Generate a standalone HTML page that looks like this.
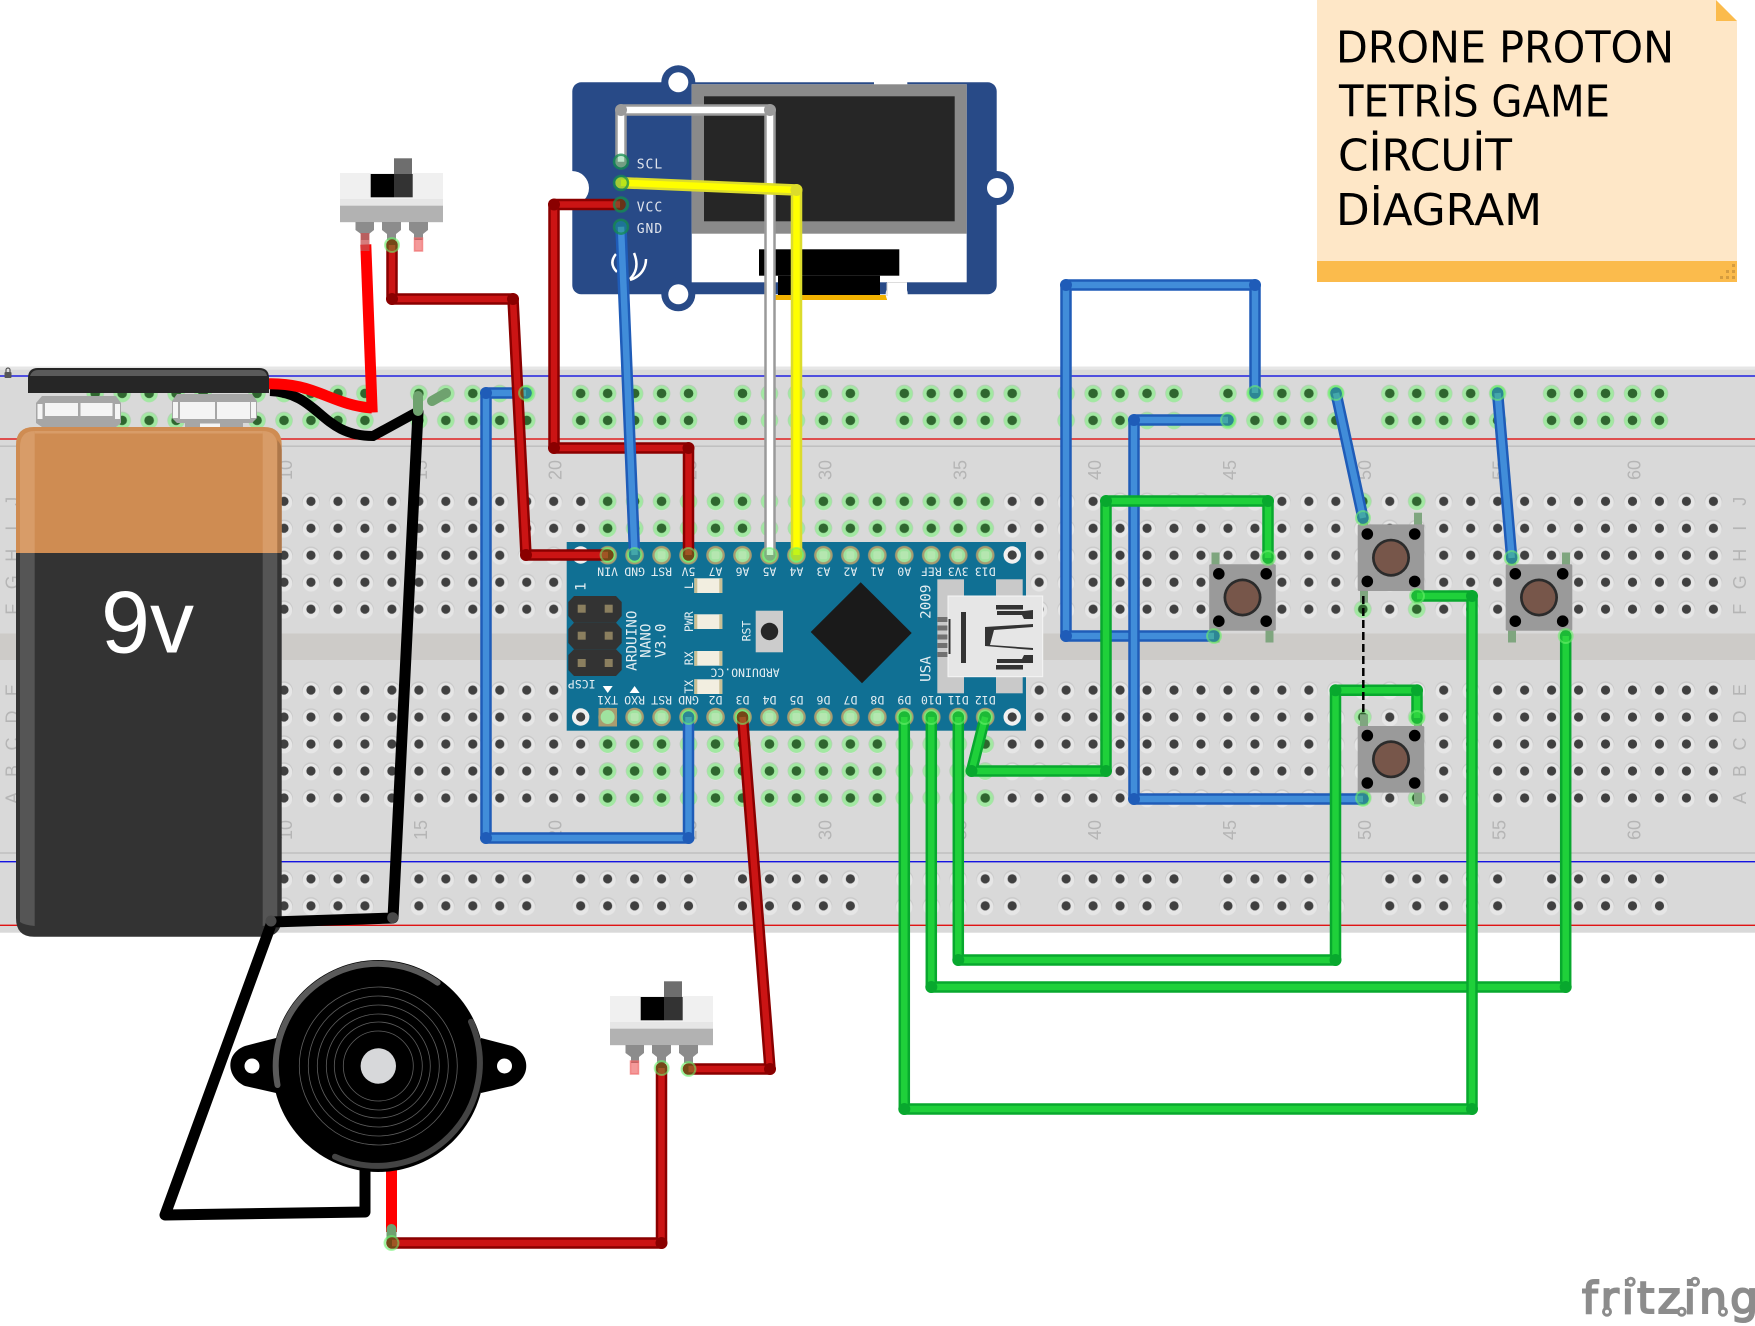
<!DOCTYPE html>
<html><head><meta charset="utf-8"><style>
html,body{margin:0;padding:0;background:#fff}
svg{display:block}
.o{fill:none;stroke-width:11.5;stroke-linecap:round;stroke-linejoin:round}
.i{fill:none;stroke-width:6.5;stroke-linecap:butt;stroke-linejoin:round}
.bo{stroke:#1f5cb8}.bi{stroke:#418dd9}
.ro{stroke:#8a0000}.ri{stroke:#cb1414}
.go{stroke:#08a82e}.gi{stroke:#1fd03a}
.wo{stroke:#9a9a9a}.wi{stroke:#fff}
.yo{stroke:#dcdc2c}.yi{stroke:#ffff00}
.k{fill:none;stroke:#000;stroke-width:11;stroke-linejoin:round;stroke-linecap:round}
.n{font:18px "Liberation Sans",sans-serif;fill:#b5b5b5;text-anchor:middle;dominant-baseline:central}
.m{font:11.5px "DejaVu Sans Mono",monospace;fill:#e4eef2;text-anchor:middle;dominant-baseline:central}
.m2{font:14.3px "DejaVu Sans Mono",monospace;fill:#e4eef2;text-anchor:middle;dominant-baseline:central}
.ol{font:13px "DejaVu Sans Mono",monospace;fill:#e0e4ec;letter-spacing:1px}
.e{fill:rgba(70,225,70,.32);stroke:rgba(110,240,110,.55);stroke-width:2}
.d{fill:rgba(30,170,80,.3);stroke:rgba(20,140,80,.75);stroke-width:2.5}
</style></head><body>
<svg width="1755" height="1326" viewBox="0 0 1755 1326" xmlns="http://www.w3.org/2000/svg">
<defs>
<pattern id="h" x="270.515" y="487.8" width="26.97" height="26.97" patternUnits="userSpaceOnUse">
<circle cx="13.485" cy="13.485" r="8.8" fill="#c9c9c9"/><circle cx="13.485" cy="14.5" r="8.3" fill="#e6e6e6"/><circle cx="13.485" cy="13.485" r="4.6" fill="#404040"/>
</pattern>
<pattern id="gh" x="270.515" y="487.8" width="26.97" height="26.97" patternUnits="userSpaceOnUse">
<circle cx="13.485" cy="13.485" r="8.8" fill="#b5cdb5"/><circle cx="13.485" cy="14" r="8.3" fill="#a2e8a2"/><circle cx="13.485" cy="13.485" r="4.8" fill="#2f662f"/>
</pattern>
<pattern id="p" x="270.515" y="487.8" width="26.97" height="26.97" patternUnits="userSpaceOnUse">
<circle cx="13.485" cy="13.485" r="9.3" fill="#a89c70"/><circle cx="13.485" cy="13.485" r="7" fill="#9fe39f"/><rect x="9.5" y="9.5" width="8" height="8" rx="2" fill="#b5e6b0"/>
</pattern>
<marker id="mb" markerUnits="userSpaceOnUse" markerWidth="14" markerHeight="14" refX="7" refY="7"><circle cx="7" cy="7" r="6" fill="#1f5cb8"/></marker>
<marker id="mr" markerUnits="userSpaceOnUse" markerWidth="14" markerHeight="14" refX="7" refY="7"><circle cx="7" cy="7" r="6" fill="#8a0000"/></marker>
<marker id="mg" markerUnits="userSpaceOnUse" markerWidth="14" markerHeight="14" refX="7" refY="7"><circle cx="7" cy="7" r="6" fill="#08a82e"/></marker>
<marker id="mw" markerUnits="userSpaceOnUse" markerWidth="14" markerHeight="14" refX="7" refY="7"><circle cx="7" cy="7" r="6" fill="#9a9a9a"/></marker>
<marker id="my" markerUnits="userSpaceOnUse" markerWidth="14" markerHeight="14" refX="7" refY="7"><circle cx="7" cy="7" r="6" fill="#dcdc2c"/></marker>
<g id="btn">
<g fill="#7fa67f"><rect x="-31" y="-45" width="8" height="12"/><rect x="23" y="-45" width="8" height="12"/><rect x="-31" y="33" width="8" height="12"/><rect x="23" y="33" width="8" height="12"/></g>
<rect x="-33.3" y="-33.3" width="66.6" height="66.6" rx="1.5" fill="#9a9a9a"/>
<g fill="#000"><circle cx="-23.7" cy="-23.7" r="5.8"/><circle cx="23.7" cy="-23.7" r="5.8"/><circle cx="-23.7" cy="23.7" r="5.8"/><circle cx="23.7" cy="23.7" r="5.8"/></g>
<circle r="19" fill="#2b2b2b"/><circle r="16.3" fill="#77564a"/>
</g>
<g id="sw">
<rect x="340" y="173" width="103" height="27" fill="#f0f0f0"/>
<rect x="340" y="199" width="103" height="7" fill="#e6e6e6"/>
<rect x="340" y="205.7" width="103" height="16.5" fill="#b2b2b2"/>
<rect x="394" y="158.3" width="18" height="16" fill="#6e6e6e"/>
<rect x="370.7" y="174" width="23.3" height="23.3" fill="#000"/>
<rect x="394" y="174" width="18.7" height="23.3" fill="#333"/>
<g fill="#8c8c8c">
<path d="M355.5 222H374V230L369 234V240H361V234L355.5 230Z"/>
<path d="M382 222H401V230L396 234V240H387V234L382 230Z"/>
<path d="M409 222H428V230L423 234V240H414V234L409 230Z"/>
</g>
</g>
</defs>

<!-- breadboard -->
<rect x="0" y="366.7" width="1755" height="566" fill="#d9d9d9"/>
<rect x="0" y="366.7" width="1755" height="3" fill="#e6e6e6"/>
<rect x="0" y="633.5" width="1755" height="26.5" fill="#cdcbc8"/>
<rect x="0" y="375.3" width="1755" height="1.4" fill="#1414e0"/>
<rect x="0" y="438.3" width="1755" height="1.4" fill="#e01414"/>
<rect x="0" y="445.5" width="1755" height="1.4" fill="#bdbdbd"/>
<rect x="0" y="861" width="1755" height="1.4" fill="#1414e0"/>
<rect x="0" y="924.6" width="1755" height="1.4" fill="#e01414"/>
<rect x="0" y="852.3" width="1755" height="1.4" fill="#bdbdbd"/>
<g fill="#555"><rect x="4.5" y="372" width="7" height="6" rx="1"/><path d="M6 372v-2a2 2 0 0 1 4 0v2" fill="none" stroke="#555" stroke-width="1.2"/></g>

<rect x="27.785" y="487.8" width="1699.11" height="134.85" fill="url(#h)"/>
<rect x="27.785" y="676.6" width="1699.11" height="134.85" fill="url(#h)"/>
<g fill="url(#gh)">
<rect x="81.725" y="379.935" width="134.85" height="53.94"/><rect x="243.545" y="379.935" width="134.85" height="53.94"/><rect x="405.365" y="379.935" width="134.85" height="53.94"/><rect x="567.185" y="379.935" width="134.85" height="53.94"/><rect x="729.005" y="379.935" width="134.85" height="53.94"/><rect x="890.825" y="379.935" width="134.85" height="53.94"/><rect x="1052.645" y="379.935" width="134.85" height="53.94"/><rect x="1214.465" y="379.935" width="134.85" height="53.94"/><rect x="1376.285" y="379.935" width="134.85" height="53.94"/><rect x="1538.105" y="379.935" width="134.85" height="53.94"/>
<rect x="594.155" y="487.8" width="404.55" height="53.94"/>
<rect x="594.155" y="730.545" width="404.55" height="80.91"/>
<rect x="1349.3" y="487.8" width="26.97" height="26.97"/><rect x="1403.24" y="487.8" width="26.97" height="26.97"/>
<rect x="1349.3" y="595.68" width="26.97" height="26.97"/><rect x="1403.24" y="595.68" width="26.97" height="26.97"/>
<rect x="1349.3" y="703.575" width="26.97" height="26.97"/><rect x="1403.24" y="703.575" width="26.97" height="26.97"/>
<rect x="1349.3" y="784.485" width="26.97" height="26.97"/><rect x="1403.24" y="784.485" width="26.97" height="26.97"/>
</g>
<g fill="url(#h)">
<rect x="81.725" y="865.4" width="134.85" height="53.94"/><rect x="243.545" y="865.4" width="134.85" height="53.94"/><rect x="405.365" y="865.4" width="134.85" height="53.94"/><rect x="567.185" y="865.4" width="134.85" height="53.94"/><rect x="729.005" y="865.4" width="134.85" height="53.94"/><rect x="890.825" y="865.4" width="134.85" height="53.94"/><rect x="1052.645" y="865.4" width="134.85" height="53.94"/><rect x="1214.465" y="865.4" width="134.85" height="53.94"/><rect x="1376.285" y="865.4" width="134.85" height="53.94"/><rect x="1538.105" y="865.4" width="134.85" height="53.94"/>
</g>
<!-- board labels -->
<g>
<text class="n" transform="translate(286 470) rotate(-90)">10</text><text class="n" transform="translate(420.85 470) rotate(-90)">15</text><text class="n" transform="translate(555.7 470) rotate(-90)">20</text><text class="n" transform="translate(690.55 470) rotate(-90)">25</text><text class="n" transform="translate(825.4 470) rotate(-90)">30</text><text class="n" transform="translate(960.25 470) rotate(-90)">35</text><text class="n" transform="translate(1095.1 470) rotate(-90)">40</text><text class="n" transform="translate(1229.95 470) rotate(-90)">45</text><text class="n" transform="translate(1364.8 470) rotate(-90)">50</text><text class="n" transform="translate(1499.65 470) rotate(-90)">55</text><text class="n" transform="translate(1634.5 470) rotate(-90)">60</text>
<text class="n" transform="translate(286 830) rotate(-90)">10</text><text class="n" transform="translate(420.85 830) rotate(-90)">15</text><text class="n" transform="translate(555.7 830) rotate(-90)">20</text><text class="n" transform="translate(690.55 830) rotate(-90)">25</text><text class="n" transform="translate(825.4 830) rotate(-90)">30</text><text class="n" transform="translate(960.25 830) rotate(-90)">35</text><text class="n" transform="translate(1095.1 830) rotate(-90)">40</text><text class="n" transform="translate(1229.95 830) rotate(-90)">45</text><text class="n" transform="translate(1364.8 830) rotate(-90)">50</text><text class="n" transform="translate(1499.65 830) rotate(-90)">55</text><text class="n" transform="translate(1634.5 830) rotate(-90)">60</text>
<text class="n" transform="translate(1740 501.3) rotate(-90)">J</text><text class="n" transform="translate(1740 528.3) rotate(-90)">I</text><text class="n" transform="translate(1740 555.2) rotate(-90)">H</text><text class="n" transform="translate(1740 582.2) rotate(-90)">G</text><text class="n" transform="translate(1740 609.2) rotate(-90)">F</text>
<text class="n" transform="translate(1740 690.1) rotate(-90)">E</text><text class="n" transform="translate(1740 717) rotate(-90)">D</text><text class="n" transform="translate(1740 744) rotate(-90)">C</text><text class="n" transform="translate(1740 771) rotate(-90)">B</text><text class="n" transform="translate(1740 798) rotate(-90)">A</text>
<text class="n" transform="translate(12.5 501.3) rotate(-90)">J</text><text class="n" transform="translate(12.5 528.3) rotate(-90)">I</text><text class="n" transform="translate(12.5 555.2) rotate(-90)">H</text><text class="n" transform="translate(12.5 582.2) rotate(-90)">G</text><text class="n" transform="translate(12.5 609.2) rotate(-90)">F</text>
<text class="n" transform="translate(12.5 690.1) rotate(-90)">E</text><text class="n" transform="translate(12.5 717) rotate(-90)">D</text><text class="n" transform="translate(12.5 744) rotate(-90)">C</text><text class="n" transform="translate(12.5 771) rotate(-90)">B</text><text class="n" transform="translate(12.5 798) rotate(-90)">A</text>
</g>

<!-- OLED -->
<rect x="572.3" y="82.3" width="424.4" height="212" rx="9" fill="#284a87"/>
<circle cx="678.3" cy="82.3" r="17" fill="#284a87"/><circle cx="678.3" cy="294.3" r="17" fill="#284a87"/><circle cx="997" cy="188" r="17" fill="#284a87"/>
<circle cx="678.3" cy="82.3" r="10" fill="#fff"/><circle cx="678.3" cy="294.3" r="10" fill="#fff"/><circle cx="997" cy="188" r="10" fill="#fff"/>
<path d="M572 171a17 17 0 0 1 0 34Z" fill="#fff"/>
<rect x="874" y="82" width="33.3" height="2.5" fill="#fff"/>
<rect x="691.7" y="84.3" width="275" height="198" fill="#fff"/>
<rect x="691.7" y="84.3" width="275" height="149.4" fill="#8a8a8a"/>
<rect x="704" y="96.3" width="250.7" height="125" fill="#262626"/>
<rect x="759" y="249.3" width="140.3" height="26.4" fill="#000"/>
<rect x="778" y="275.7" width="102" height="19.3" fill="#000"/>
<rect x="775" y="295" width="113" height="5" fill="#f2b200"/>
<circle cx="896.7" cy="294" r="11" fill="#fff"/><rect x="887" y="282" width="20" height="20" fill="#fff"/>
<path d="M887 283V296" stroke="#ccc" stroke-width="1"/><path d="M887 282.5H907" stroke="#ddd" stroke-width="1"/>
<text class="ol" x="636.7" y="168.3">SCL</text><text class="ol" x="636.7" y="211.3">VCC</text><text class="ol" x="636.7" y="233">GND</text>
<g fill="none" stroke="#fff" stroke-width="2.5"><path d="M616 254c-5 6-5 12 1 18"/><path d="M634 253c5 12 2 20-4 26"/><path d="M646 259c0 8-4 17-16 21"/></g>

<!-- Nano -->
<rect x="566.7" y="542" width="459.3" height="188.7" fill="#107094"/>
<rect x="594.155" y="541.755" width="404.55" height="26.97" fill="url(#p)"/>
<rect x="594.155" y="703.575" width="404.55" height="26.97" fill="url(#p)"/>
<rect x="598.5" y="708" width="18.5" height="18.5" fill="#a89c70"/><circle cx="607.64" cy="717.06" r="7" fill="#9fe39f"/>
<g fill="#f0f0f0"><circle cx="580.67" cy="555" r="8.7"/><circle cx="1012.19" cy="555" r="8.7"/><circle cx="580.67" cy="717" r="8.7"/><circle cx="1012.19" cy="717" r="8.7"/></g>
<g fill="#404040"><circle cx="580.67" cy="555" r="4.6"/><circle cx="1012.19" cy="555" r="4.6"/><circle cx="580.67" cy="717" r="4.6"/><circle cx="1012.19" cy="717" r="4.6"/></g>
<text class="m" transform="translate(607.6 571.7) rotate(180)">VIN</text><text class="m" transform="translate(634.6 571.7) rotate(180)">GND</text><text class="m" transform="translate(661.6 571.7) rotate(180)">RST</text><text class="m" transform="translate(688.5 571.7) rotate(180)">5V</text><text class="m" transform="translate(715.5 571.7) rotate(180)">A7</text><text class="m" transform="translate(742.5 571.7) rotate(180)">A6</text><text class="m" transform="translate(769.5 571.7) rotate(180)">A5</text><text class="m" transform="translate(796.4 571.7) rotate(180)">A4</text><text class="m" transform="translate(823.4 571.7) rotate(180)">A3</text><text class="m" transform="translate(850.4 571.7) rotate(180)">A2</text><text class="m" transform="translate(877.3 571.7) rotate(180)">A1</text><text class="m" transform="translate(904.3 571.7) rotate(180)">A0</text><text class="m" transform="translate(931.3 571.7) rotate(180)">REF</text><text class="m" transform="translate(958.2 571.7) rotate(180)">3V3</text><text class="m" transform="translate(985.2 571.7) rotate(180)">D13</text>
<text class="m" transform="translate(607.6 700) rotate(180)">TX1</text><text class="m" transform="translate(634.6 700) rotate(180)">RXO</text><text class="m" transform="translate(661.6 700) rotate(180)">RST</text><text class="m" transform="translate(688.5 700) rotate(180)">GND</text><text class="m" transform="translate(715.5 700) rotate(180)">D2</text><text class="m" transform="translate(742.5 700) rotate(180)">D3</text><text class="m" transform="translate(769.5 700) rotate(180)">D4</text><text class="m" transform="translate(796.4 700) rotate(180)">D5</text><text class="m" transform="translate(823.4 700) rotate(180)">D6</text><text class="m" transform="translate(850.4 700) rotate(180)">D7</text><text class="m" transform="translate(877.3 700) rotate(180)">D8</text><text class="m" transform="translate(904.3 700) rotate(180)">D9</text><text class="m" transform="translate(931.3 700) rotate(180)">D10</text><text class="m" transform="translate(958.2 700) rotate(180)">D11</text><text class="m" transform="translate(985.2 700) rotate(180)">D12</text>
<!-- ICSP -->
<g fill="#333">
<path d="M574 596H616L621.7 602V616L616 622.7H574L568.3 616V602Z"/>
<path d="M574 622.7H616L621.7 629V643L616 649.3H574L568.3 643V629Z"/>
<path d="M574 649.3H616L621.7 655V670L616 676H574L568.3 670V655Z"/>
</g>
<g fill="#8b7f5f"><rect x="577.7" y="604.7" width="8" height="8"/><rect x="604.7" y="604.7" width="8" height="8"/><rect x="577.7" y="631.7" width="8" height="8"/><rect x="604.7" y="631.7" width="8" height="8"/><rect x="577.7" y="659" width="8" height="8"/><rect x="604.7" y="659" width="8" height="8"/></g>
<text class="m2" transform="translate(581.7 586.7) rotate(-90)">1</text>
<text class="m" transform="translate(581.7 684) rotate(180)">ICSP</text>
<path d="M602.7 686H612.7L607.7 693Z" fill="#fff"/><path d="M629.6 693H639.6L634.6 686Z" fill="#fff"/>
<text class="m2" transform="translate(632.7 640.7) rotate(-90)">ARDUINO</text><text class="m2" transform="translate(646.7 640.7) rotate(-90)">NANO</text><text class="m2" transform="translate(661.7 640.7) rotate(-90)">V3.0</text>
<g fill="#f2eee0"><rect x="694.3" y="578.3" width="28" height="14.7"/><rect x="694.3" y="614.3" width="28" height="14.7"/><rect x="694.3" y="651" width="28" height="14.7"/><rect x="694.3" y="679.3" width="28" height="14.7"/></g>
<g fill="#c9bf95"><rect x="694.3" y="578.3" width="3" height="14.7"/><rect x="719.3" y="578.3" width="3" height="14.7"/><rect x="694.3" y="614.3" width="3" height="14.7"/><rect x="719.3" y="614.3" width="3" height="14.7"/><rect x="694.3" y="651" width="3" height="14.7"/><rect x="719.3" y="651" width="3" height="14.7"/><rect x="694.3" y="679.3" width="3" height="14.7"/><rect x="719.3" y="679.3" width="3" height="14.7"/></g>
<text class="m" transform="translate(689 585.7) rotate(-90)">L</text><text class="m" transform="translate(689 621.7) rotate(-90)">PWR</text><text class="m" transform="translate(689 658.3) rotate(-90)">RX</text><text class="m" transform="translate(689 686.7) rotate(-90)">TX</text>
<rect x="755.7" y="610.7" width="27.3" height="41.6" fill="#ccc"/><circle cx="769.5" cy="631.5" r="8.7" fill="#262626"/>
<text class="m" transform="translate(746.7 631) rotate(-90)">RST</text>
<text class="m" transform="translate(745 672.7) rotate(180)">ARDUINO.CC</text>
<path d="M860.7 582.3L911.7 633L862 683.3L810.7 632Z" fill="#1a1a1a"/>
<text class="m2" transform="translate(926.7 601.7) rotate(-90)">2009</text><text class="m2" transform="translate(926.7 669) rotate(-90)">USA</text>
<!-- USB -->
<g fill="#c9c9c9"><rect x="937.3" y="579.3" width="26.7" height="114"/><rect x="995.7" y="579.3" width="27" height="114"/></g>
<rect x="964" y="579.3" width="32" height="114" fill="#107094"/>
<g fill="#707070"><rect x="937.3" y="617" width="12" height="5"/><rect x="937.3" y="625.5" width="12" height="5"/><rect x="937.3" y="634.5" width="12" height="5"/><rect x="937.3" y="643" width="12" height="5"/><rect x="937.3" y="652" width="12" height="5"/></g>
<rect x="948" y="596" width="94.7" height="80.7" fill="#e6e6e6" stroke="#f5f5f5" stroke-width="1"/>
<g fill="#333"><rect x="948.5" y="619" width="2" height="35"/><rect x="961" y="612" width="5" height="51"/>
<rect x="996" y="605" width="27" height="4.5"/><path d="M997 611H1024L1033 610V619H1024L1022 615H997Z"/><rect x="996" y="665" width="27" height="4.5"/><path d="M997 659H1022L1024 655H1033V663H997Z"/>
<path d="M985 627L1033 624V627L994 630L990 645L1033 648V650L985 646Z"/></g>

<!-- buttons -->
<use href="#btn" x="1242.5" y="597.5"/><use href="#btn" x="1391" y="557.7"/><use href="#btn" x="1391" y="759.3"/><use href="#btn" x="1539" y="597.5"/>

<!-- switches -->
<use href="#sw"/>
<use href="#sw" x="270" y="823"/>
<g fill="rgba(235,70,70,.55)" stroke="rgba(240,110,110,.7)" stroke-width="1.5"><rect x="414.5" y="238" width="8" height="13"/><rect x="630.5" y="1061" width="8" height="13"/></g>

<!-- battery leads -->
<path d="M270 391C320 393 320 436 373 436L417 412" fill="none" stroke="#000" stroke-width="10"/>
<path d="M262 384C315 381 330 405 372 408" fill="none" stroke="#f00" stroke-width="11"/>
<path d="M366 250L372 407" fill="none" stroke="#f00" stroke-width="11" stroke-linecap="square"/>
<rect x="360.5" y="233" width="9" height="18" fill="rgba(200,80,80,.75)"/>

<!-- battery -->
<g>
<path d="M42 396H116L121 403V423L116 427H42L36 423V403Z" fill="#a6a6a6"/>
<path d="M177 394H252L257 401V418L252 423H243V427H185V423H177L172 418V401Z" fill="#a6a6a6"/>
<g fill="#f4f4f4"><rect x="37.5" y="404" width="5" height="15"/><rect x="115" y="404" width="5" height="15"/><rect x="45" y="403" width="33" height="13"/><rect x="80.5" y="403" width="32" height="13"/><rect x="173" y="402" width="5" height="16"/><rect x="251" y="402" width="5" height="16"/><rect x="180" y="402" width="35" height="17"/><rect x="217" y="402" width="33" height="17"/><rect x="200" y="423.5" width="20" height="3.5"/></g>
</g>
<path d="M28 393V378Q28 368 38 368H259Q269 368 269 378V393Z" fill="#262626"/>
<path d="M30 376Q32 370 38 370H259Q266 370 267 376Z" fill="#5a5a5a"/>
<path d="M16 445Q16 427 34 427H264Q281.7 427 281.7 445V553H16Z" fill="#cf8c52"/>
<path d="M16 553H281.7V918Q281.7 936.8 263 936.8H34Q16 936.8 16 918Z" fill="#333"/>
<path d="M20 447Q20 431 34.7 431V553H20Z" fill="#d89c68"/>
<path d="M262.7 431Q277.3 431 277.3 447V553H262.7Z" fill="#d89c68"/>
<path d="M277.3 440Q281.7 445 281.7 450V553H277.3Z" fill="#ad774a"/>
<rect x="34.7" y="431" width="228" height="2.5" fill="#d89c68"/>
<path d="M20 553H34.7V926Q24 925 20 922Z" fill="#555"/>
<path d="M262.7 553H277.3V922Q273 925 262.7 926Z" fill="#555"/>
<text x="101" y="652.5" font-family="'Liberation Sans',sans-serif" font-size="88" fill="#fff">9v</text>

<!-- wires -->
<path class="k" d="M418 412L393 918L272 922L165 1215L365 1212V1165"/>
<circle cx="392.7" cy="917.7" r="5.5" fill="#4a4a4a"/><circle cx="271" cy="921" r="5.5" fill="#4a4a4a"/>
<path d="M418 396V411" stroke="#6fa26f" stroke-width="10" stroke-linecap="round"/>
<path d="M432 401L446 393" stroke="#6fa26f" stroke-width="10" stroke-linecap="round"/>

<path class="o bo" d="M1255 393V285H1066V636H1214"/><path class="i bi" marker-mid="url(#mb)" d="M1255 393V285H1066V636H1214"/>
<path class="o bo" d="M1228 420H1134V799H1363"/><path class="i bi" marker-mid="url(#mb)" d="M1228 420H1134V799H1363"/>
<path class="o bo" d="M1336 393L1363 518"/><path class="i bi" d="M1336 393L1363 518"/>
<path class="o bo" d="M1497.6 393L1511.7 558"/><path class="i bi" d="M1497.6 393L1511.7 558"/>
<path class="o bo" d="M526 393H486V838H688.5V717"/><path class="i bi" marker-mid="url(#mb)" d="M526 393H486V838H688.5V717"/>

<path class="o go" d="M931.3 717V987H1565.7V636"/><path class="i gi" marker-mid="url(#mg)" d="M931.3 717V987H1565.7V636"/>
<path class="o go" d="M904.3 717V1109H1472V596H1417"/><path class="i gi" marker-mid="url(#mg)" d="M904.3 717V1109H1472V596H1417"/>
<path class="o go" d="M958.3 717V960H1335.5V690.3H1417V718"/><path class="i gi" marker-mid="url(#mg)" d="M958.3 717V960H1335.5V690.3H1417V718"/>
<path class="o go" d="M985.2 717L971.5 771H1106V501H1268V558"/><path class="i gi" marker-mid="url(#mg)" d="M985.2 717L971.5 771H1106V501H1268V558"/>

<path class="o wo" d="M621 161.7V110H770V555"/><path class="i wi" marker-mid="url(#mw)" d="M621 161.7V110H770V555"/>
<path class="o yo" d="M621 182.7L796.5 190V555"/><path class="i yi" marker-mid="url(#my)" d="M621 182.7L796.5 190V555"/>
<path class="o ro" d="M620 204.5H554V448H688.5V555"/><path class="i ri" marker-mid="url(#mr)" d="M620 204.5H554V448H688.5V555"/>
<path class="o bo" d="M621 226.7L634.6 555"/><path class="i bi" d="M621 226.7L634.6 555"/>
<path class="o ro" d="M608 555H526L513 299H392V245"/><path class="i ri" marker-mid="url(#mr)" d="M608 555H526L513 299H392V245"/>
<path class="o ro" d="M742.5 717L770 1069H688.5"/><path class="i ri" marker-mid="url(#mr)" d="M742.5 717L770 1069H688.5"/>
<path fill="none" stroke="#f00" stroke-width="11" d="M391.5 1165V1232"/>
<path stroke="#6fa26f" stroke-width="10" stroke-linecap="round" d="M391.5 1229V1243"/>
<path class="o ro" d="M392 1243H661.5V1068"/><path class="i ri" marker-mid="url(#mr)" d="M392 1243H661.5V1068"/>

<path d="M1363.3 596V712" stroke="#000" stroke-width="2.5" stroke-dasharray="8 4"/>

<!-- connection dots -->
<g>
<circle class="d" cx="621" cy="161.7" r="7"/><circle class="d" cx="621" cy="183" r="7"/><circle class="d" cx="621" cy="204.5" r="7"/><circle class="d" cx="621" cy="226.7" r="7"/>
<circle class="e" cx="607.6" cy="555" r="7"/><circle class="e" cx="634.6" cy="555" r="7"/><circle class="e" cx="688.5" cy="555" r="7"/><circle class="e" cx="769.5" cy="555" r="7"/><circle class="e" cx="796.4" cy="555" r="7"/>
<circle class="e" cx="688.5" cy="717" r="7"/><circle class="e" cx="742.5" cy="717" r="7"/><circle class="e" cx="904.3" cy="717" r="7"/><circle class="e" cx="931.3" cy="717" r="7"/><circle class="e" cx="958.3" cy="717" r="7"/><circle class="e" cx="985.2" cy="717" r="7"/>
<circle class="e" cx="1214" cy="636" r="7"/><circle class="e" cx="1363" cy="518" r="7"/><circle class="e" cx="1511.7" cy="558" r="7"/><circle class="e" cx="1268" cy="558" r="7"/><circle class="e" cx="1417" cy="596" r="7"/><circle class="e" cx="1565.7" cy="636" r="7"/><circle class="e" cx="1417" cy="718" r="7"/><circle class="e" cx="1363" cy="798" r="7"/>
<circle class="e" cx="392" cy="245" r="7"/><circle class="e" cx="661.7" cy="1068" r="7"/><circle class="e" cx="688.5" cy="1069" r="7"/><circle class="e" cx="391.5" cy="1243" r="7"/>
<circle class="e" cx="1255" cy="393" r="7"/><circle class="e" cx="1228" cy="420" r="7"/><circle class="e" cx="1336" cy="393" r="7"/><circle class="e" cx="1497.6" cy="393" r="7"/><circle class="e" cx="526" cy="393" r="7"/>
</g>

<!-- buzzer -->
<path d="M276 1038L245 1046C224 1054 227 1078 245 1086L276 1093Z" fill="#000"/>
<path d="M481 1038L512 1046C531 1054 531 1078 512 1086L481 1093Z" fill="#000"/>
<circle cx="252" cy="1066" r="7.5" fill="#fff"/><circle cx="504.5" cy="1066" r="7.5" fill="#fff"/>
<circle cx="378.3" cy="1066" r="106" fill="#000"/>
<g fill="none" stroke="#5f5f5f" stroke-width=".8"><circle cx="378.3" cy="1066" r="79"/><circle cx="378.3" cy="1066" r="70"/><circle cx="378.3" cy="1066" r="61"/><circle cx="378.3" cy="1066" r="52"/><circle cx="378.3" cy="1066" r="44"/><circle cx="378.3" cy="1066" r="35"/></g>
<circle cx="378.3" cy="1066" r="17.7" fill="#d7d8da"/>
<path d="M277.5 1085A102.5 102.5 0 0 1 437.6 982.7" fill="none" stroke="#5a5a5a" stroke-width="6" stroke-linecap="round"/>
<path d="M471 1021.7A102.5 102.5 0 0 1 335 1156.7" fill="none" stroke="#444" stroke-width="6" stroke-linecap="round"/>

<!-- note -->
<rect x="1317" y="0" width="420" height="282" fill="#fee7c7"/>
<rect x="1317" y="261" width="420" height="21" fill="#fbbb4c"/>
<path d="M1716 0H1737V21Z" fill="#fff"/><path d="M1716 0V21H1737Z" fill="#fbbb4c"/>
<g fill="#d59c3f"><rect x="1732" y="264" width="3" height="3"/><rect x="1726" y="270" width="3" height="3"/><rect x="1732" y="270" width="3" height="3"/><rect x="1720" y="276" width="3" height="3"/><rect x="1726" y="276" width="3" height="3"/><rect x="1732" y="276" width="3" height="3"/></g>
<g font-family="'DejaVu Sans',sans-serif" font-size="43.6" fill="#000">
<text x="1336" y="62.3" textLength="338" lengthAdjust="spacingAndGlyphs">DRONE PROTON</text>
<text x="1339" y="116.7" textLength="271" lengthAdjust="spacingAndGlyphs">TETRİS GAME</text>
<text x="1338" y="170.7" textLength="174" lengthAdjust="spacingAndGlyphs">CİRCUİT</text>
<text x="1336" y="225" textLength="206" lengthAdjust="spacingAndGlyphs">DİAGRAM</text>
</g>

<!-- fritzing -->
<text x="1582" y="1313" font-family="'DejaVu Sans',sans-serif" font-size="44" fill="#8c8c8c" stroke="#8c8c8c" stroke-width="2" textLength="176">fritzing</text>
<g fill="#fff" stroke="#8c8c8c" stroke-width="3"><circle cx="1607" cy="1311.7" r="3.5"/><circle cx="1681.7" cy="1311.7" r="3.5"/><circle cx="1723" cy="1311.7" r="3.5"/><circle cx="1630.7" cy="1281.7" r="3.5"/><circle cx="1695" cy="1281.7" r="3.5"/></g>
</svg>
</body></html>
